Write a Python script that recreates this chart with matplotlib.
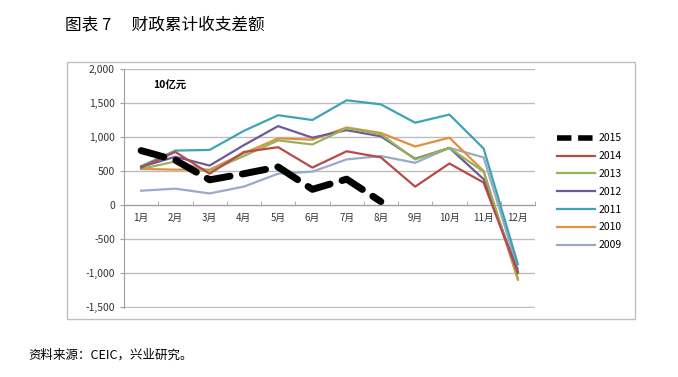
import matplotlib
matplotlib.use("Agg")
import matplotlib.pyplot as plt
from matplotlib.patches import Rectangle
from matplotlib.lines import Line2D
from matplotlib.ticker import FuncFormatter, FixedLocator

plt.rcParams['font.family'] = ['Noto Sans CJK SC', 'DejaVu Sans']

months = ['1月', '2月', '3月', '4月', '5月', '6月', '7月', '8月', '9月', '10月', '11月', '12月']

y2015 = [800, 660, 370, 460, 560, 230, 380, 50]
y2014 = [550, 780, 460, 780, 850, 550, 790, 700, 270, 610, 330, -1000]
y2013 = [530, 640, 500, 720, 950, 890, 1130, 1040, 670, 840, 490, -1080]
y2012 = [560, 710, 580, 880, 1160, 990, 1100, 1010, 680, 840, 380, -980]
y2011 = [570, 800, 810, 1090, 1320, 1250, 1540, 1480, 1210, 1330, 830, -870]
y2010 = [530, 520, 520, 760, 980, 960, 1140, 1060, 860, 990, 500, -1100]
y2009 = [210, 240, 170, 270, 460, 490, 670, 720, 620, 840, 700, -940]

series = [
    ('2014', y2014, '#B84A47'),
    ('2013', y2013, '#97B25A'),
    ('2012', y2012, '#6E5A96'),
    ('2011', y2011, '#3FA3B3'),
    ('2010', y2010, '#E0913F'),
    ('2009', y2009, '#9AAAC8'),
]

fig = plt.figure(figsize=(6.78, 3.77), dpi=100)
W, H = 678, 377

# outer chart frame
fig.patches.append(Rectangle((67 / W, 1 - 319 / H), (635 - 67) / W, (319 - 62) / H,
                             transform=fig.transFigure, fill=False,
                             edgecolor='#C0C0C0', lw=1.0))

ax = fig.add_axes([124 / W, 1 - 308 / H, (535 - 124) / W, (308 - 69) / H])
x = list(range(len(months)))

handles = {}
# lighter lines below, 2015 on top
for name, vals, col in reversed(series):
    ax.plot(x[:len(vals)], vals, color=col, lw=1.6, zorder=3)
    handles[name] = Line2D([], [], color=col, lw=1.6)
ax.plot(x[:len(y2015)], y2015, color='black', lw=5, dashes=(3.4, 1.8),
        dash_capstyle='round', zorder=4)
handles['2015'] = Line2D([], [], color='black', lw=4, dashes=(2.6, 1.2),
                         dash_capstyle='butt')

ax.set_xlim(-0.5, 11.5)
ax.set_ylim(-1515, 2000)
ax.set_yticks(range(-1500, 2001, 500))
ax.yaxis.set_major_formatter(FuncFormatter(lambda v, p: f'{int(v):,}'))
ax.grid(axis='y', color='#BDBDBD', lw=1.0)
ax.set_axisbelow(True)

for s in ['top', 'right']:
    ax.spines[s].set_visible(False)
ax.spines['bottom'].set_position(('data', 0))
ax.spines['bottom'].set_color('#9E9E9E')
ax.spines['left'].set_color('#9E9E9E')

ax.set_xticks(x)
ax.set_xticklabels(months)
ax.xaxis.set_minor_locator(FixedLocator([i + 0.5 for i in range(-1, 12)]))
ax.tick_params(axis='x', which='major', length=0, labelsize=7, pad=6, colors='#333333')
ax.tick_params(axis='x', which='minor', length=3, direction='in', color='#9E9E9E')
ax.tick_params(axis='y', length=3, direction='out', labelsize=7.5, color='#9E9E9E',
               labelcolor='#333333')

ax.text(0.07, 0.93, '10亿元', transform=ax.transAxes, fontsize=7.5,
        fontweight='bold', va='center', ha='left')

order = ['2015', '2014', '2013', '2012', '2011', '2010', '2009']
fig.legend([handles[k] for k in order], order, loc='upper left',
           bbox_to_anchor=(548 / W, 1 - 124 / H), frameon=False,
           fontsize=7.5, handlelength=3.6, labelspacing=0.75, handletextpad=0.4)

fig.text(65 / W, 1 - 25 / H, '图表 7　 财政累计收支差额', fontsize=12, va='center', ha='left')
fig.text(28 / W, 1 - 355 / H, '资料来源：CEIC，兴业研究。', fontsize=9, va='center', ha='left')

fig.savefig('out.png', dpi=100)
